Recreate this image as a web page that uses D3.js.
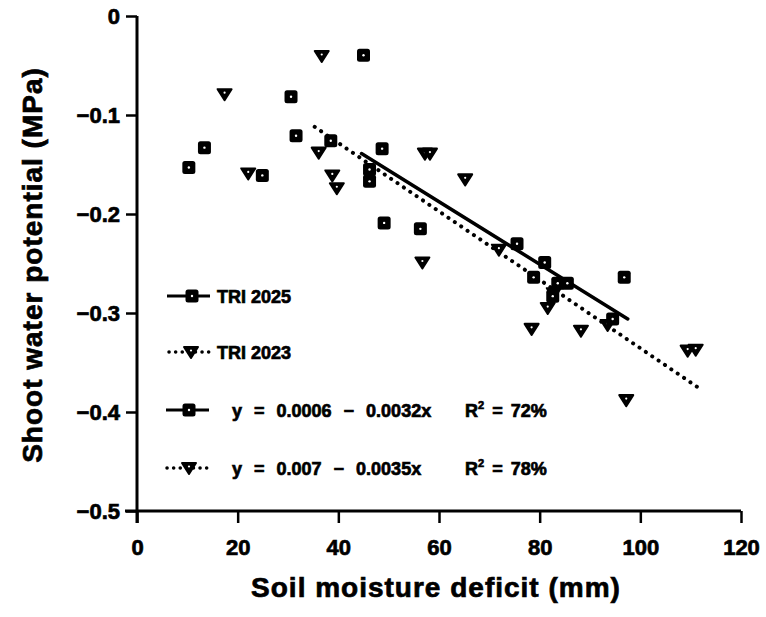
<!DOCTYPE html>
<html><head><meta charset="utf-8">
<script src="https://cdn.jsdelivr.net/npm/d3@7"></script>
<style>
html,body{margin:0;padding:0;background:#fff;}
svg{display:block;}
svg text{font-family:"Liberation Sans",Arial,sans-serif;font-weight:bold;fill:#000;stroke:#000;stroke-width:0.7px;}
</style></head>
<body><svg id="c" width="766" height="617"></svg>
<script>
// ---- data ----
const xTicks = [0, 20, 40, 60, 80, 100, 120];
const yTicks = [0, -0.1, -0.2, -0.3, -0.4, -0.5];
const yTickLabels = ["0", "\u22120.1", "\u22120.2", "\u22120.3", "\u22120.4", "\u22120.5"];

// TRI 2025 (squares)
const tri2025X = [10.3, 13.4, 24.9, 30.6, 31.6, 38.5, 45.0, 46.2, 46.2, 48.7, 49.1, 56.3, 75.5, 78.8, 81.0, 82.6, 83.6, 85.5, 94.5, 96.8];
const tri2025Y = [-0.153, -0.133, -0.161, -0.0815, -0.121, -0.126, -0.0397, -0.155, -0.167, -0.134, -0.209, -0.215, -0.230, -0.264, -0.249, -0.283, -0.270, -0.270, -0.306, -0.264];

// TRI 2023 (triangles)
const tri2023X = [17.4, 22.1, 36.1, 36.7, 38.8, 39.7, 56.7, 57.2, 58.2, 65.2, 71.9, 78.4, 81.6, 82.8, 88.2, 93.5, 97.2, 109.4, 111.0];
const tri2023Y = [-0.079, -0.159, -0.138, -0.0404, -0.161, -0.174, -0.249, -0.139, -0.139, -0.165, -0.236, -0.316, -0.295, -0.280, -0.318, -0.312, -0.388, -0.338, -0.337];

// fitted lines (end points as drawn)
const fit2025X = [44.6, 97.5];
const fit2025Y = [-0.139, -0.306];
const fit2023X = [35.3, 111.4];
const fit2023Y = [-0.112, -0.375];

const legendLabels = ["TRI 2025", "TRI 2023"];
const eqLabels = ["y = 0.0006 \u2212 0.0032x", "y = 0.007 \u2212 0.0035x"];
const r2Labels = ["72%", "78%"];

const xTitle = "Soil moisture deficit (mm)";
const yTitle = "Shoot water potential (MPa)";

// ---- chart ----
const svg = d3.select("#c");
const x = d3.scaleLinear().domain([0, 120]).range([137, 741]);
const y = d3.scaleLinear().domain([-0.5, 0]).range([511, 16]);

const ink = "#000";

// axes
const xAxis = d3.axisBottom(x).tickValues(xTicks).tickSize(12).tickSizeOuter(0).tickFormat(d3.format("d"));
const gx = svg.append("g").attr("transform", `translate(0,${y(-0.5)})`).call(xAxis);
gx.select(".domain").attr("d", `M${x(0)-12},0H${x(120)}`).attr("stroke", ink).attr("stroke-width", 3);
gx.selectAll(".tick line").attr("stroke", ink).attr("stroke-width", 2.5);
gx.selectAll(".tick text").style("font-size", "22px").attr("y", 28).attr("dy", "0.71em");

const yAxis = d3.axisLeft(y).tickValues(yTicks).tickSize(11).tickSizeOuter(0)
  .tickFormat((d, i) => yTickLabels[i]);
const gy = svg.append("g").attr("transform", `translate(${x(0)},0)`).call(yAxis);
gy.select(".domain").attr("d", `M0,${y(0)}V${y(-0.5)+12}`).attr("stroke", ink).attr("stroke-width", 3);
gy.selectAll(".tick line").attr("stroke", ink).attr("stroke-width", 2.5);
gy.selectAll(".tick text").style("font-size", "22px").attr("x", -17);

// titles
svg.append("text").attr("x", 436).attr("y", 597).attr("text-anchor", "middle")
  .style("font-size", "28px").style("letter-spacing", "1px").text(xTitle);
svg.append("text").attr("transform", "translate(42,265) rotate(-90)").attr("text-anchor", "middle")
  .style("font-size", "28px").style("letter-spacing", "1px").text(yTitle);

// fit lines
const line = d3.line().x(d => x(d[0])).y(d => y(d[1]));
svg.append("path").datum(d3.zip(fit2025X, fit2025Y)).attr("d", line)
  .attr("fill", "none").attr("stroke", ink).attr("stroke-width", 3.5).attr("stroke-linecap", "round");
svg.append("path").datum(d3.zip(fit2023X, fit2023Y)).attr("d", line)
  .attr("fill", "none").attr("stroke", ink).attr("stroke-width", 4).attr("stroke-linecap", "round")
  .attr("stroke-dasharray", "0.1 7.6");

// marker drawers
function square(g, cx, cy) {
  g.append("rect").attr("x", cx - 6.5).attr("y", cy - 6.5).attr("width", 13).attr("height", 13)
    .attr("rx", 2.5).attr("fill", ink);
  g.append("circle").attr("cx", cx).attr("cy", cy).attr("r", 1.2).attr("fill", "#fff");
}
function tri(g, cx, cy) {
  g.append("path").attr("d", `M${cx-7},${cy-5}L${cx+7},${cy-5}L${cx},${cy+6}Z`)
    .attr("fill", ink).attr("stroke", ink).attr("stroke-width", 2).attr("stroke-linejoin", "round");
  g.append("circle").attr("cx", cx).attr("cy", cy - 1.5).attr("r", 1.1).attr("fill", "#fff");
}

const gp = svg.append("g");
d3.zip(tri2023X, tri2023Y).forEach(d => tri(gp, x(d[0]), y(d[1])));
d3.zip(tri2025X, tri2025Y).forEach(d => square(gp, x(d[0]), y(d[1])));

// legend
const lg = svg.append("g");
const rowsY = [296, 352, 410, 468];
// row 1: TRI 2025
lg.append("line").attr("x1", 167).attr("x2", 210).attr("y1", rowsY[0]).attr("y2", rowsY[0])
  .attr("stroke", ink).attr("stroke-width", 3);
square(lg, 192, rowsY[0]);
lg.append("text").attr("x", 217).attr("y", rowsY[0] + 7).style("font-size", "18px").text(legendLabels[0]);
// row 2: TRI 2023
lg.append("line").attr("x1", 169).attr("x2", 210).attr("y1", rowsY[1]).attr("y2", rowsY[1])
  .attr("stroke", ink).attr("stroke-width", 3.5).attr("stroke-linecap", "round").attr("stroke-dasharray", "0.1 6.5");
tri(lg, 191, rowsY[1]);
lg.append("text").attr("x", 217).attr("y", rowsY[1] + 7).style("font-size", "18px").text(legendLabels[1]);
// row 3: equation 2025
lg.append("line").attr("x1", 166).attr("x2", 209).attr("y1", rowsY[2]).attr("y2", rowsY[2])
  .attr("stroke", ink).attr("stroke-width", 3);
square(lg, 189, rowsY[2]);
lg.append("text").attr("x", 232).attr("y", rowsY[2] + 7).style("font-size", "18px").style("word-spacing", "7px").text(eqLabels[0]);
const r1 = lg.append("text").attr("x", 465).attr("y", rowsY[2] + 7).style("font-size", "18px").style("word-spacing", "3px");
r1.append("tspan").text("R");
r1.append("tspan").style("font-size", "11px").attr("dy", -8).text("2");
r1.append("tspan").attr("dy", 8).text(" = " + r2Labels[0]);
// row 4: equation 2023
lg.append("line").attr("x1", 167).attr("x2", 209).attr("y1", rowsY[3]).attr("y2", rowsY[3])
  .attr("stroke", ink).attr("stroke-width", 3.5).attr("stroke-linecap", "round").attr("stroke-dasharray", "0.1 6.5");
tri(lg, 189, rowsY[3]);
lg.append("text").attr("x", 232).attr("y", rowsY[3] + 7).style("font-size", "18px").style("word-spacing", "7px").text(eqLabels[1]);
const r2 = lg.append("text").attr("x", 465).attr("y", rowsY[3] + 7).style("font-size", "18px").style("word-spacing", "3px");
r2.append("tspan").text("R");
r2.append("tspan").style("font-size", "11px").attr("dy", -8).text("2");
r2.append("tspan").attr("dy", 8).text(" = " + r2Labels[1]);
</script>
</body></html>
